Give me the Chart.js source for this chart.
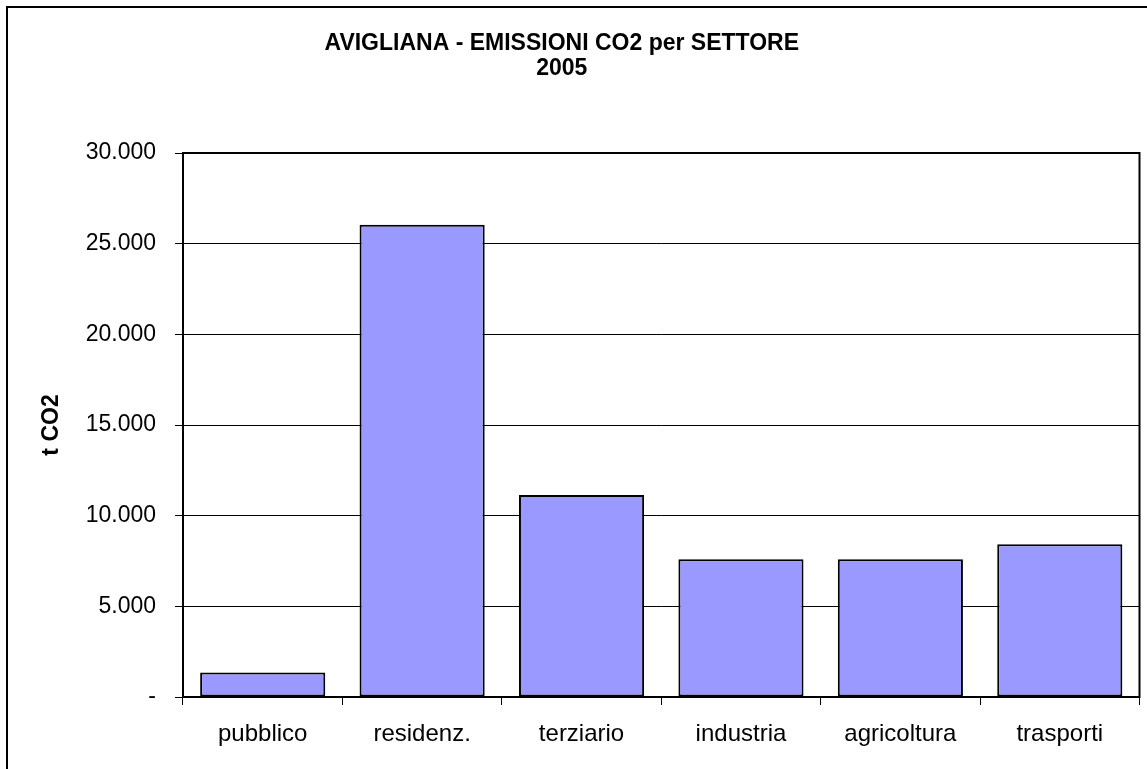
<!DOCTYPE html>
<html>
<head>
<meta charset="utf-8">
<script src="https://cdn.jsdelivr.net/npm/chart.js@4"></script>
<style>
html, body { margin: 0; padding: 0; background: #fff; overflow: hidden; }
#frame { position: absolute; left: 6px; top: 6px; width: 1200px; height: 800px; border: 2px solid #000; }
#wrap { position: absolute; left: -16px; top: 0; width: 1163px; height: 769px; }
</style>
</head>
<body>
<div id="frame"></div>
<div id="wrap"><canvas id="co2Chart"></canvas></div>
<script>
const sectors = ['pubblico', 'residenz.', 'terziario', 'industria', 'agricoltura', 'trasporti'];
const emissions = [1350, 26050, 11140, 7600, 7590, 8430];
const titleLines = ['AVIGLIANA - EMISSIONI CO2 per SETTORE', '2005'];
const yMax = 30000;
const yStep = 5000;

const fontFamily = "Arial, 'Liberation Sans', sans-serif";

function formatThousands(value) {
    if (value === 0) return '-';
    return String(value).replace(/\B(?=(\d{3})+(?!\d))/g, '.');
}

// frame round the plot area, like the Excel chart
const plotFrame = {
    id: 'plotFrame',
    afterDraw(chart) {
        const {ctx, chartArea: a} = chart;
        ctx.save();
        ctx.strokeStyle = '#000';
        ctx.lineWidth = 2;
        ctx.strokeRect(a.left, a.top, a.right - a.left, a.bottom - a.top);
        ctx.restore();
    }
};

new Chart(document.getElementById('co2Chart'), {
    type: 'bar',
    data: {
        labels: sectors,
        datasets: [{
            label: 't CO2',
            data: emissions,
            backgroundColor: '#9999FF',
            borderColor: '#000',
            borderWidth: 2,
            borderSkipped: false,
            categoryPercentage: 1,
            barPercentage: 0.785
        }]
    },
    options: {
        responsive: true,
        maintainAspectRatio: false,
        animation: false,
        layout: {
            padding: { left: 0, right: 7.5, top: 0, bottom: 0 }
        },
        plugins: {
            legend: { display: false },
            tooltip: { enabled: false },
            title: {
                display: true,
                text: titleLines,
                color: '#000',
                font: { family: fontFamily, size: 23, weight: 'bold', lineHeight: 1.087 },
                padding: { top: 31, bottom: 72 }
            }
        },
        scales: {
            x: {
                grid: {
                    offset: true,
                    drawOnChartArea: false,
                    drawTicks: true,
                    tickLength: 8,
                    color: '#000',
                    lineWidth: 1
                },
                border: { color: '#000', width: 2 },
                ticks: {
                    color: '#000',
                    font: { family: fontFamily, size: 24 },
                    padding: 15,
                    maxRotation: 0
                },
                afterFit(scale) { scale.height = 72; }
            },
            y: {
                min: 0,
                max: yMax,
                ticks: {
                    stepSize: yStep,
                    callback: formatThousands,
                    color: '#000',
                    font: { family: fontFamily, size: 23 },
                    padding: 19
                },
                grid: { color: '#000', lineWidth: 1, tickLength: 8 },
                border: { color: '#000', width: 2 },
                title: {
                    display: true,
                    text: 't CO2',
                    color: '#000',
                    font: { family: fontFamily, size: 23, weight: 'bold' },
                    padding: { top: 54, bottom: 0 }
                },
                afterFit(scale) { scale.width = 199; }
            }
        }
    },
    plugins: [plotFrame]
});
</script>
</body>
</html>
